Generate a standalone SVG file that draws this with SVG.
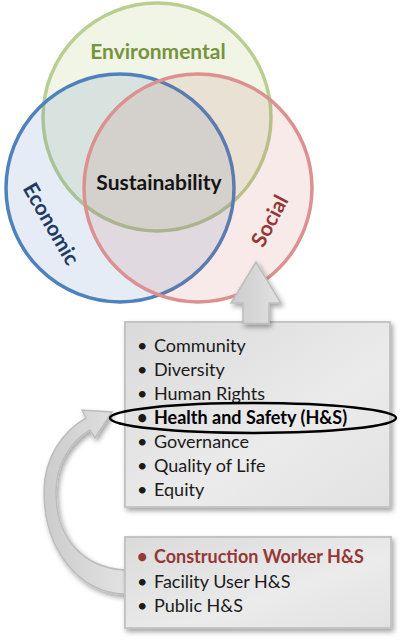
<svg xmlns="http://www.w3.org/2000/svg" width="400" height="640" viewBox="0 0 400 640">
<defs>
<style>
.t{font-family:Lato,"Open Sans","Liberation Sans",sans-serif;}
.item{font-size:18px;fill:#1a1a1a;}
.lbl{font-size:21px;font-weight:bold;}
.box{fill:url(#boxg);stroke:#c4c4c4;stroke-width:2;filter:url(#sh);}
.arrow{fill:url(#arrg);stroke:#bdbdbd;stroke-width:1.5;}
</style>
<linearGradient id="boxg" x1="0" y1="0" x2="1" y2="1">
<stop offset="0" stop-color="#dadada"/>
<stop offset="0.6" stop-color="#ebebeb"/>
<stop offset="1" stop-color="#e2e2e2"/>
</linearGradient>
<linearGradient id="arrg" x1="0" y1="0" x2="1" y2="0">
<stop offset="0" stop-color="#cccccc"/>
<stop offset="1" stop-color="#e2e2e2"/>
</linearGradient>
<filter id="sh" x="-10%" y="-10%" width="125%" height="130%">
<feDropShadow dx="2" dy="3" stdDeviation="2.5" flood-color="#000" flood-opacity="0.35"/>
</filter>
</defs>
<rect width="400" height="640" fill="#ffffff"/>

<g id="circle-environmental">
<circle cx="157" cy="117" r="114" fill="#9bbb59" fill-opacity="0.15" stroke="#b9cf91" stroke-width="3.5"/>
</g>
<g id="circle-economic">
<circle cx="120" cy="188" r="114" fill="#4f81bd" fill-opacity="0.15" stroke="#4f81bd" stroke-width="3.5"/>
</g>
<g id="circle-social">
<circle cx="198" cy="188" r="114" fill="#c0504d" fill-opacity="0.12" stroke="#dc9190" stroke-width="3.5"/>
</g>
<g id="labels-venn" class="t">
<text class="lbl" x="158" y="59" text-anchor="middle" fill="#77933c">Environmental</text>
<text class="lbl" x="159" y="190" text-anchor="middle" fill="#141414">Sustainability</text>
<text class="lbl" transform="translate(51,224) rotate(60)" x="0" y="7" text-anchor="middle" fill="#1f3a64">Economic</text>
<text class="lbl" transform="translate(270,221) rotate(-62)" x="0" y="7" text-anchor="middle" fill="#953735">Social</text>
</g>

<g id="connectors">
<path class="arrow" filter="url(#sh)" d="M125,570 C85,568 57,540 56,495 C55,465 70,442 90,430 L95,438 L112,412 L82,410 L86,418 C62,432 44,458 44,492 C44,550 80,594 125,594 Z"/>
</g>

<g id="box-main">
<rect class="box" x="125" y="322" width="265" height="185"/>
<g class="t item">
<text x="137" y="352">•</text><text x="154" y="352">Community</text>
<text x="137" y="376">•</text><text x="154" y="376">Diversity</text>
<text x="137" y="400">•</text><text x="154" y="400">Human Rights</text>
<text x="137" y="424" font-weight="bold">•</text><text x="154" y="424" font-weight="bold" fill="#000">Health and Safety (H&amp;S)</text>
<text x="137" y="448">•</text><text x="154" y="448">Governance</text>
<text x="137" y="472">•</text><text x="154" y="472">Quality of Life</text>
<text x="137" y="496">•</text><text x="154" y="496">Equity</text>
</g>
</g>

<g id="up-arrow">
<path class="arrow" filter="url(#sh)" d="M256,262 L281,303 L269,303 L269,323.5 L243,323.5 L243,303 L231,303 Z"/>
</g>

<g id="highlight">
<ellipse cx="253" cy="418" rx="143" ry="15" fill="none" stroke="#000" stroke-width="2.5"/>
</g>

<g id="box-sub">
<rect class="box" x="125" y="537" width="266" height="91"/>
<g class="t item">
<text x="137" y="563" fill="#953735" font-weight="bold">•</text><text x="154" y="563" fill="#953735" font-weight="bold">Construction Worker H&amp;S</text>
<text x="137" y="588">•</text><text x="154" y="588">Facility User H&amp;S</text>
<text x="137" y="612">•</text><text x="154" y="612">Public H&amp;S</text>
</g>
</g>
</svg>
